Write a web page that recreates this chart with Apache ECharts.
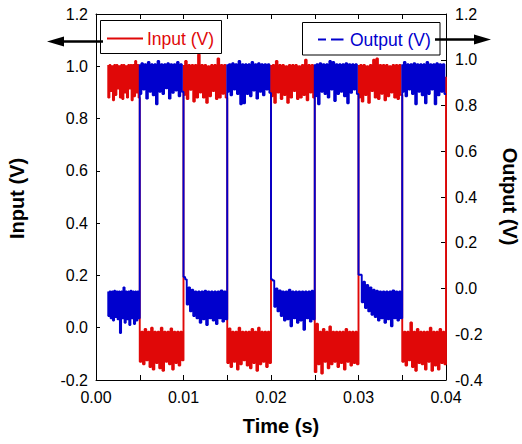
<!DOCTYPE html>
<html>
<head>
<meta charset="utf-8">
<script src="https://cdn.jsdelivr.net/npm/echarts@6/dist/echarts.min.js"></script>
<style>
html,body{margin:0;padding:0;background:#fff;}
#c{width:522px;height:444px;}
</style>
</head>
<body>
<div id="c"></div>
<script>
// ---- data ----
const xTicks = [0.00, 0.01, 0.02, 0.03, 0.04];
const leftTicks = [-0.2, 0.0, 0.2, 0.4, 0.6, 0.8, 1.0, 1.2];
const rightTicks = [-0.4, -0.2, 0.0, 0.2, 0.4, 0.6, 0.8, 1.0, 1.2];

// segment boundaries (s): input high/low alternate, output is inverted
const segmentEdges = [0.0014, 0.005, 0.010, 0.015, 0.020, 0.025, 0.030, 0.035, 0.040];

// Input (V): upper and lower envelope of the noisy trace, per segment
const inputTop = [
  [1.005,1.005,1.0,1.005,1.005,1.0,1.005,1.005,1.0,1.005,1.005,1.005,1.02,1.005],
  [-0.015,-0.015,-0.005,-0.015,0.0,-0.015,-0.015,0.0,-0.015,-0.015,-0.003,-0.015,-0.015,-0.015],
  [1.005,1.02,1.005,1.005,1.005,1.045,1.005,1.005,1.0,1.005,1.005,1.03,1.005,1.005],
  [-0.015,-0.003,-0.015,-0.015,0.0,-0.015,-0.015,-0.015,-0.005,-0.015,0.0,-0.015,-0.015,-0.015],
  [1.005,1.005,1.02,1.005,1.005,1.0,1.005,1.005,1.005,1.0,1.005,1.025,1.005,1.005],
  [-0.015,0.015,-0.015,-0.005,-0.015,0.005,-0.015,-0.015,-0.015,-0.015,-0.005,-0.015,-0.015,-0.015],
  [1.005,1.005,1.005,1.0,1.005,1.025,1.03,1.005,1.005,1.005,1.0,1.005,1.005,1.005],
  [-0.015,-0.015,-0.015,0.02,-0.015,-0.005,-0.015,-0.015,-0.015,0.0,-0.015,-0.015,-0.005,-0.015]
];
const inputBottom = [
  [0.88,0.905,0.87,0.89,0.915,0.88,0.875,0.90,0.88,0.915,0.87,0.885,0.90,0.88],
  [-0.13,-0.14,-0.125,-0.15,-0.16,-0.135,-0.155,-0.165,-0.13,-0.14,-0.16,-0.135,-0.145,-0.125],
  [0.89,0.875,0.91,0.865,0.88,0.90,0.88,0.86,0.885,0.905,0.875,0.88,0.895,0.88],
  [-0.135,-0.15,-0.13,-0.16,-0.14,-0.125,-0.145,-0.155,-0.135,-0.165,-0.14,-0.13,-0.15,-0.135],
  [0.885,0.86,0.90,0.875,0.89,0.86,0.88,0.905,0.875,0.88,0.89,0.87,0.90,0.88],
  [-0.17,-0.14,-0.175,-0.13,-0.155,-0.14,-0.13,-0.15,-0.135,-0.16,-0.13,-0.145,-0.135,-0.14],
  [0.88,0.865,0.89,0.86,0.905,0.88,0.875,0.895,0.87,0.885,0.90,0.88,0.875,0.89],
  [-0.13,-0.145,-0.125,-0.15,-0.165,-0.135,-0.14,-0.16,-0.13,-0.165,-0.145,-0.16,-0.135,-0.14]
];
const inputFinal = [0.04, 0.96];

// Output (V): upper and lower envelope of the noisy trace, per segment
const outputTop = [
  [-0.013,-0.013,-0.013,-0.01,-0.013,-0.013,-0.013,0.005,-0.013,-0.013,-0.01,-0.013,-0.013,-0.013],
  [0.98,0.985,0.98,0.99,0.98,0.98,0.995,0.98,0.98,0.985,0.98,0.98,0.99,0.98],
  [0.2,0.04,0.005,-0.005,-0.013,-0.013,-0.013,-0.01,-0.013,-0.013,-0.013,-0.013,-0.008,-0.013],
  [0.98,0.98,0.985,0.98,0.995,0.98,0.98,0.98,0.99,0.98,0.985,0.98,0.98,0.98],
  [0.18,0.035,0.0,-0.008,-0.013,-0.013,-0.005,-0.013,-0.013,-0.013,-0.013,-0.013,-0.013,-0.01],
  [0.98,0.98,0.985,0.98,0.98,0.995,0.99,0.98,0.98,0.98,0.985,0.98,0.98,0.98],
  [0.22,0.06,0.03,0.015,0.005,-0.005,-0.01,-0.013,-0.013,-0.013,-0.013,-0.008,-0.013,-0.013],
  [0.98,0.99,0.98,0.98,0.985,0.98,0.98,0.98,0.99,0.98,0.98,0.985,0.98,0.98]
];
const outputBottom = [
  [-0.12,-0.13,-0.14,-0.125,-0.135,-0.195,-0.13,-0.15,-0.135,-0.16,-0.13,-0.155,-0.14,-0.13],
  [0.85,0.87,0.83,0.86,0.845,0.805,0.86,0.85,0.875,0.83,0.855,0.865,0.84,0.86],
  [0.05,-0.07,-0.10,-0.12,-0.13,-0.15,-0.135,-0.16,-0.13,-0.14,-0.155,-0.13,-0.145,-0.135],
  [0.86,0.845,0.87,0.85,0.805,0.81,0.85,0.84,0.865,0.83,0.86,0.845,0.87,0.855],
  [0.04,-0.08,-0.10,-0.12,-0.14,-0.135,-0.165,-0.13,-0.15,-0.14,-0.18,-0.13,-0.145,-0.135],
  [0.84,0.805,0.86,0.85,0.835,0.87,0.82,0.85,0.86,0.84,0.81,0.855,0.87,0.85],
  [0.06,-0.06,-0.085,-0.10,-0.115,-0.125,-0.14,-0.13,-0.15,-0.135,-0.165,-0.13,-0.14,-0.13],
  [0.86,0.84,0.87,0.85,0.805,0.86,0.845,0.81,0.85,0.87,0.805,0.845,0.86,0.85]
];

// ---- build the traces (alternating upper / lower samples inside each segment) ----
function buildTrace(edges, tops, bottoms) {
  const pts = [];
  for (let s = 0; s < tops.length; s++) {
    const t0 = edges[s], t1 = edges[s + 1], n = tops[s].length;
    const step = (t1 - t0) / (2 * n - 1);
    for (let k = 0; k < n; k++) {
      pts.push([t0 + 2 * k * step, tops[s][k]]);
      pts.push([t0 + (2 * k + 1) * step, bottoms[s][k]]);
    }
  }
  return pts;
}
const inputData = buildTrace(segmentEdges, inputTop, inputBottom);
inputData.push(inputFinal);
const outputData = buildTrace(segmentEdges, outputTop, outputBottom);

const RED = '#E00808';
const BLUE = '#0000CD';
const FONT = 'Liberation Sans, Arial, Helvetica, sans-serif';

function near(v, arr) { return arr.some(a => Math.abs(a - v) < 1e-9); }

const axisLineStyle = {show: true, onZero: false, lineStyle: {color: '#000', width: 1}};

const chart = echarts.init(document.getElementById('c'), null, {renderer: 'svg'});
chart.setOption({
  animation: false,
  backgroundColor: '#fff',
  grid: {left: 96, right: 76, top: 14, bottom: 64},
  xAxis: [{
    type: 'value', position: 'bottom', min: 0, max: 0.04, interval: 0.005,
    axisLine: axisLineStyle,
    axisTick: {show: true, inside: true, length: 5, lineStyle: {color: '#000'}},
    axisLabel: {
      color: '#000', fontSize: 16, fontFamily: FONT, margin: 9,
      formatter: v => near(v, xTicks) ? v.toFixed(2) : ''
    },
    splitLine: {show: false}
  }, {
    type: 'value', position: 'top', min: 0, max: 0.04, interval: 0.005,
    axisLine: axisLineStyle,
    axisTick: {show: true, inside: true, length: 5, lineStyle: {color: '#000'}},
    axisLabel: {show: false},
    splitLine: {show: false}
  }],
  yAxis: [{
    type: 'value', position: 'left', min: -0.2, max: 1.2, interval: 0.2,
    axisLine: axisLineStyle,
    axisTick: {show: true, inside: true, length: 4, lineStyle: {color: '#000'}},
    axisLabel: {
      color: '#000', fontSize: 16, fontFamily: FONT, margin: 8,
      formatter: v => near(v, leftTicks) ? v.toFixed(1) : ''
    },
    splitLine: {show: false}
  }, {
    type: 'value', position: 'right', min: -0.4, max: 1.2, interval: 0.2,
    axisLine: axisLineStyle,
    axisTick: {show: true, inside: true, length: 5, lineStyle: {color: '#000'}},
    axisLabel: {
      color: '#000', fontSize: 16, fontFamily: FONT, margin: 9,
      formatter: v => near(v, rightTicks) ? v.toFixed(1) : ''
    },
    splitLine: {show: false}
  }],
  series: [{
    name: 'Input (V)', type: 'line', xAxisIndex: 0, yAxisIndex: 0,
    data: inputData, showSymbol: false, symbol: 'none', sampling: null, step: 'start',
    lineStyle: {color: RED, width: 1.9}, itemStyle: {color: RED}, z: 2
  }, {
    name: 'Output (V)', type: 'line', xAxisIndex: 0, yAxisIndex: 1,
    data: outputData, showSymbol: false, symbol: 'none', sampling: null, step: 'start',
    lineStyle: {color: BLUE, width: 1.9}, itemStyle: {color: BLUE}, z: 3
  }],
  graphic: [
    // Input legend box + arrow
    {type: 'rect', z: 100, shape: {x: 100.5, y: 20.5, width: 121, height: 33},
     style: {fill: '#fff', stroke: '#000', lineWidth: 1}},
    {type: 'line', z: 101, shape: {x1: 107, y1: 38.5, x2: 143, y2: 38.5},
     style: {stroke: RED, lineWidth: 2}},
    {type: 'text', z: 101, x: 147, y: 38.5,
     style: {text: 'Input (V)', fill: RED, font: '17.5px ' + FONT,
             textAlign: 'left', textVerticalAlign: 'middle', align: 'left', verticalAlign: 'middle'}},
    {type: 'line', z: 102, shape: {x1: 62, y1: 41.5, x2: 103, y2: 41.5},
     style: {stroke: '#000', lineWidth: 2.5}},
    {type: 'polygon', z: 102, shape: {points: [[47, 41.5], [64, 36.5], [64, 46.5]]},
     style: {fill: '#000'}},
    // Output legend box + arrow
    {type: 'rect', z: 100, shape: {x: 302.5, y: 22.5, width: 137.5, height: 32.5},
     style: {fill: '#fff', stroke: '#000', lineWidth: 1}},
    {type: 'line', z: 101, shape: {x1: 318, y1: 39.5, x2: 326, y2: 39.5},
     style: {stroke: BLUE, lineWidth: 2}},
    {type: 'line', z: 101, shape: {x1: 331, y1: 39.5, x2: 343.5, y2: 39.5},
     style: {stroke: BLUE, lineWidth: 2}},
    {type: 'text', z: 101, x: 350, y: 39.5,
     style: {text: 'Output (V)', fill: BLUE, font: '17.5px ' + FONT,
             textAlign: 'left', textVerticalAlign: 'middle', align: 'left', verticalAlign: 'middle'}},
    {type: 'line', z: 102, shape: {x1: 435, y1: 39.5, x2: 476, y2: 39.5},
     style: {stroke: '#000', lineWidth: 2.5}},
    {type: 'polygon', z: 102, shape: {points: [[491, 39.5], [474, 34.5], [474, 44.5]]},
     style: {fill: '#000'}},
    // axis titles
    {type: 'text', z: 100, x: 281, y: 426,
     style: {text: 'Time (s)', fill: '#000', font: 'bold 20px ' + FONT,
             textAlign: 'center', textVerticalAlign: 'middle', align: 'center', verticalAlign: 'middle'}},
    {type: 'text', z: 100, x: 17, y: 198.5, rotation: Math.PI / 2,
     style: {text: 'Input (V)', fill: '#000', font: 'bold 20px ' + FONT,
             textAlign: 'center', textVerticalAlign: 'middle', align: 'center', verticalAlign: 'middle'}},
    {type: 'text', z: 100, x: 510, y: 196.5, rotation: -Math.PI / 2,
     style: {text: 'Output (V)', fill: '#000', font: 'bold 20px ' + FONT,
             textAlign: 'center', textVerticalAlign: 'middle', align: 'center', verticalAlign: 'middle'}}
  ]
});
</script>
</body>
</html>
